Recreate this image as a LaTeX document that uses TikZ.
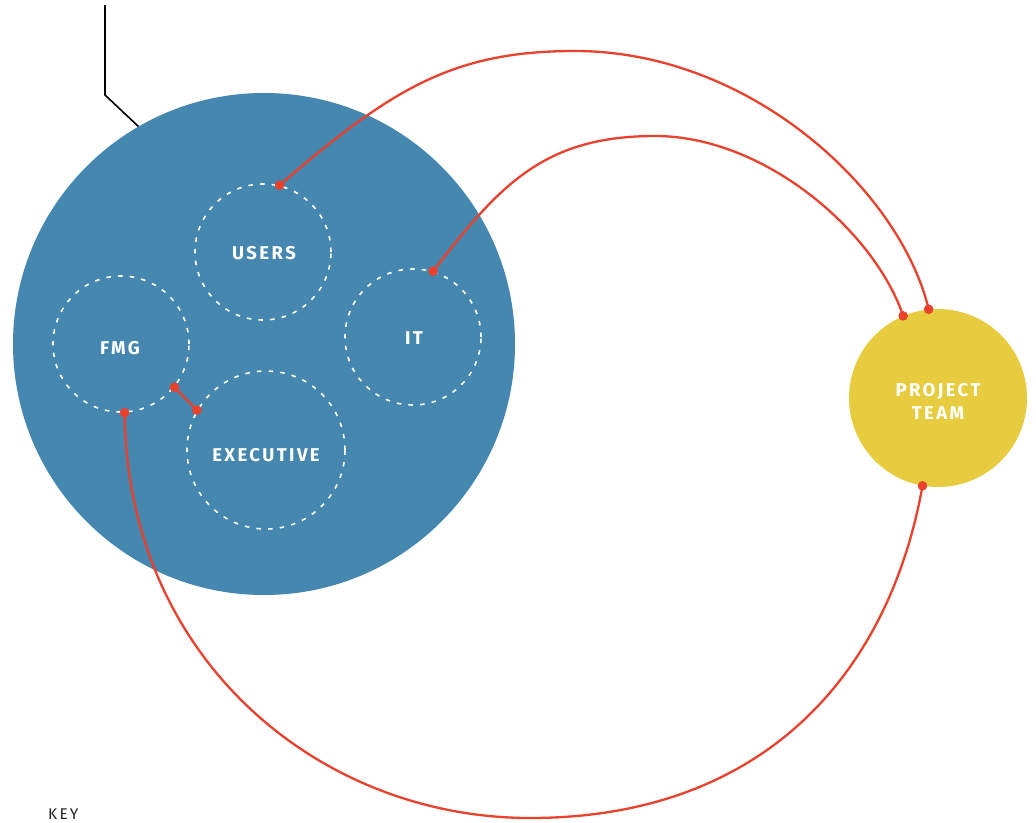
\documentclass[tikz,border=0pt]{standalone}
\usepackage{fontspec}
\setmainfont{Fira Sans}
\newfontfamily\labfont[LetterSpace=13]{Fira Sans}
\newfontfamily\keyfont[LetterSpace=14]{Fira Sans}
\definecolor{cblue}{HTML}{4587AE}
\definecolor{cyellow}{HTML}{E7CC3F}
\definecolor{cred}{HTML}{EA412D}
\tikzset{
  groupcirc/.style={circle, draw=white, line width=1.6pt, dash pattern=on 4.5pt off 7.2pt, inner sep=0pt},
  labtext/.style={text=white, font=\labfont\bfseries\fontsize{18.5}{23}\selectfont, inner sep=0pt, align=center},
  conn/.style={draw=cred, line width=2.3pt},
  reddot/.style={fill=cred},
}
\begin{document}
\begin{tikzpicture}[x=1pt,y=-1pt]
\useasboundingbox (0,0) rectangle (1036,822);
\fill[white] (0,0) rectangle (1036,822);
% main circles
\node[circle, fill=cblue, inner sep=0pt, minimum size=502pt] (big) at (264,344) {};
\node[circle, fill=cyellow, inner sep=0pt, minimum size=178pt] (pt) at (938,398) {};
\node[groupcirc, minimum size=136pt] (users) at (263,252) {};
\node[groupcirc, minimum size=136pt] (it) at (413,337) {};
\node[groupcirc, minimum size=136pt] (fmg) at (121,344) {};
\node[groupcirc, minimum size=158pt] (exec) at (266,450) {};
% labels
\node[labtext] (users-t) at (264,253) {USERS};
\node[labtext] (it-t) at (414,338) {IT};
\node[labtext] (fmg-t) at (120,348) {FMG};
\node[labtext] (exec-t) at (266,455) {EXECUTIVE};
\node[labtext] (pt-t) at (938,401) {PROJECT\\TEAM};
\node[anchor=base west, inner sep=0pt, font=\keyfont\fontsize{15.5}{17}\selectfont, text=black!85] (key) at (48,819) {KEY};
% black pointer line
\coordinate (ptrtop) at (105,5);
\coordinate (ptrbend) at (105,95);
\draw[black, line width=1.6pt] (ptrtop) -- (ptrbend) -- (big.120);
% connector end points
\coordinate (du) at (users.76);
\coordinate (di) at (it.73);
\coordinate (dfb) at (fmg.273);
\coordinate (dfe) at (fmg.321);
\coordinate (de) at (exec.150);
\coordinate (dp1) at (pt.96);
\coordinate (dp2) at (pt.113);
\coordinate (dp3) at (pt.260);
% connectors
\draw[conn] (du) .. controls (393,87) and (455,51) .. (575,51)
  .. controls (750,51) and (900,190) .. (dp1);
\draw[conn] (di) .. controls (500,184) and (545,136) .. (655,136)
  .. controls (765,136) and (875,232) .. (dp2);
\draw[conn] (dfb) .. controls (127,660) and (320,818) .. (530,818)
  .. controls (760,818) and (888,678) .. (dp3);
\draw[conn] (dfe) -- (de);
% dots
\foreach \d in {du,di,dfb,dfe,de,dp1,dp2,dp3} \fill[reddot] (\d) circle (4.8pt);
\end{tikzpicture}
\end{document}
